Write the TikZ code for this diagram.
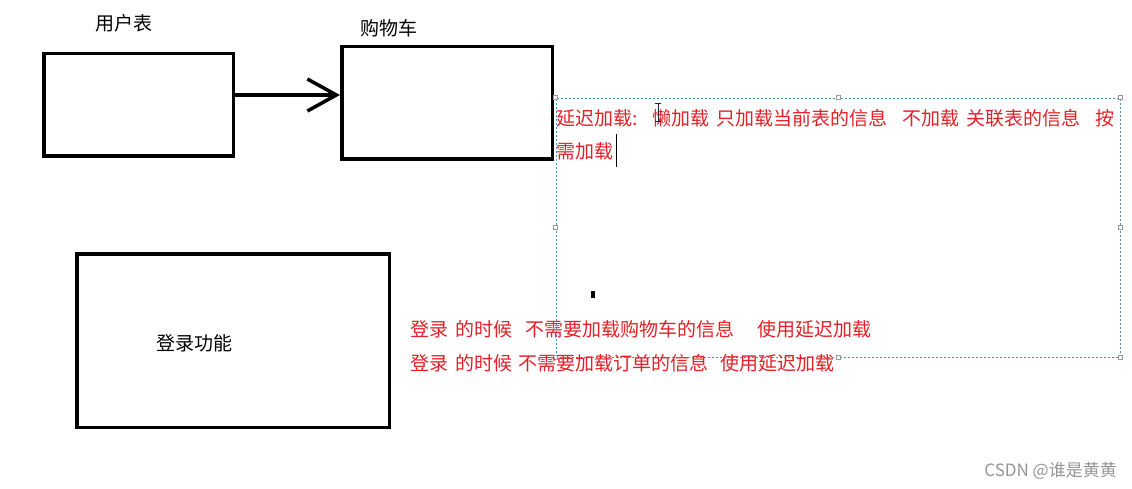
\documentclass[tikz,border=0pt]{standalone}
\usepackage{fontspec}
\setmainfont{Noto Sans CJK SC}
\usetikzlibrary{arrows.meta}
\definecolor{notered}{RGB}{228,32,40}
\definecolor{selblue}{RGB}{78,140,178}
\definecolor{markgray}{RGB}{150,150,150}

\begin{document}
\begin{tikzpicture}[x=1pt, y=-1pt,
        tbox/.style={draw=black, line width=3.5pt, inner sep=0pt},
        blacktxt/.style={font=\fontsize{19}{23}\selectfont, inner sep=0pt, anchor=base west},
        redtxt/.style={blacktxt, text=notered},
        selbox/.style={draw=selblue, line width=0.6pt, dash pattern=on 2pt off 2pt, inner sep=0pt},
        handle/.style={draw=gray!80, fill=white, line width=0.5pt, minimum size=4pt, inner sep=0pt},
        >={Straight Barb[length=29pt, width=32pt]}
    ]
        \useasboundingbox[fill=white] (0,0) rectangle (1132,489);

        % tables
        \node[tbox, minimum width=189.5pt, minimum height=102.5pt] (user) at (138.5, 105) {};
        \node[tbox, minimum width=210.5pt, minimum height=112.5pt] (cart) at (447, 103) {};
        \node[tbox, minimum width=312.5pt, minimum height=173.5pt] (login) at (233, 340.5) {};

        \node[blacktxt] (userlbl) at (95, 31) {用户表};
        \node[blacktxt] (cartlbl) at (360, 36) {购物车};
        \node[blacktxt] (loginlbl) at (156, 350) {登录功能};

        \draw[->, line width=3.5pt] ([yshift=10pt]user.east) -- ([yshift=8pt]cart.west);

        % selected text frame
        \node[selbox, minimum width=564pt, minimum height=259pt] (sel) at (838, 227.5) {};
        \foreach \a in {north west, north, north east, east, south east, south, south west, west}
            \node[handle] at (sel.\a) {};

        \node[redtxt] (lazyA) at (556, 126)
            {延迟加载:\hspace{15pt}懒加载\hspace{7pt}只加载当前表的信息\hspace{15pt}不加载\hspace{7pt}关联表的信息\hspace{15pt}按};
        \node[redtxt] (lazyB) at ([yshift=-32.5pt]lazyA.base west) {需加载};
        \coordinate (caret) at ([xshift=3pt]lazyB.base east);
        \draw[black, line width=0.8pt] (caret) ++(0,-24) -- ++(0,33);

        % cursor and stray mark
        \draw[black!85, line width=1pt] (655,104) -- (661,104) (658,104) -- (658,122) (655,122) -- (661,122);
        \fill[black] (591,291) rectangle (595,298);

        \node[redtxt] (noteA) at (410, 336)
            {登录\hspace{7pt}的时候\hspace{13pt}不需要加载购物车的信息\hspace{23pt}使用延迟加载};
        \node[redtxt] (noteB) at (410, 370)
            {登录\hspace{7pt}的时候\hspace{6pt}不需要加载订单的信息\hspace{12pt}使用延迟加载};

        \node[font=\fontsize{17}{20}\selectfont, text=markgray, inner sep=0pt, anchor=base east]
            (mark) at (1117, 476) {CSDN @谁是黄黄};
    \end{tikzpicture}
\end{document}
